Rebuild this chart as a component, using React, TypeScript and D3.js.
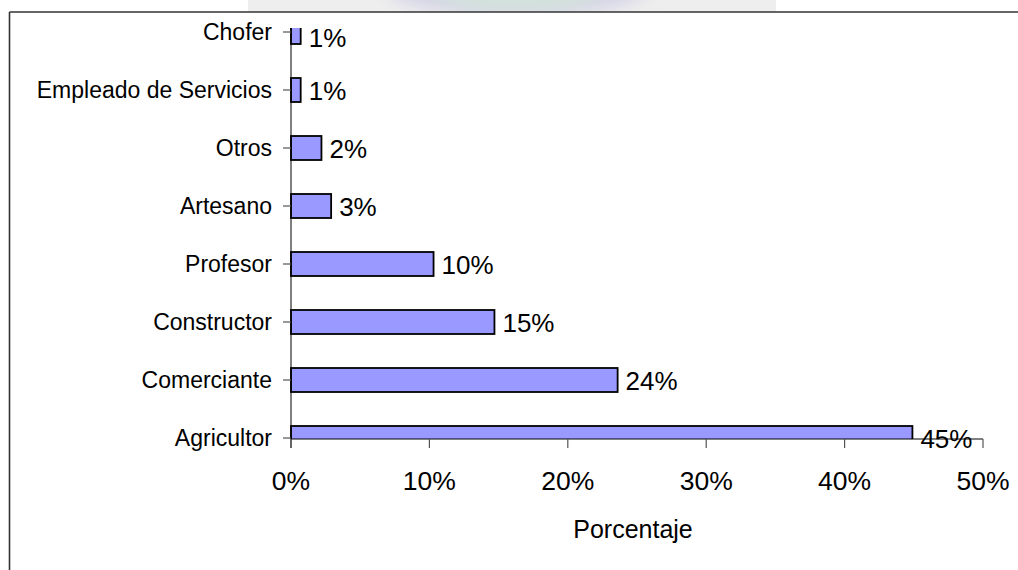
import React from "react";
import * as d3 from "d3";

const categories = [
  "Agricultor",
  "Comerciante",
  "Constructor",
  "Profesor",
  "Artesano",
  "Otros",
  "Empleado de Servicios",
  "Chofer",
];
const values = [44.9, 23.6, 14.7, 10.3, 2.9, 2.2, 0.7, 0.7];
const xTicks = [0, 10, 20, 30, 40, 50];
const axisTitle = "Porcentaje";

const W = 1018;
const H = 570;
const plotLeft = 291;
const plotRight = 983;
const plotTop = 28;
const plotBottom = 439;
const FONT = "'Liberation Sans', Arial, Helvetica, sans-serif";

export default function App() {
  const x = d3.scaleLinear().domain([0, 50]).range([plotLeft, plotRight]);
  const y = d3.scalePoint<string>().domain(categories).range([438, 32]).padding(0);
  const barH = 24;

  return (
    <div style={{ position: "absolute", left: 0, top: 0, width: W, height: H }}>
      <svg width={W} height={H} style={{ display: "block", background: "#fff" }}>
        <defs>
          <clipPath id="plotClip">
            <rect x={plotLeft - 2} y={plotTop} width={plotRight - plotLeft + 4} height={plotBottom - plotTop} />
          </clipPath>
          <clipPath id="bandClip">
            <rect x={248} y={0} width={528} height={12} />
          </clipPath>
          <filter id="blur" x="-50%" y="-50%" width="200%" height="200%">
            <feGaussianBlur stdDeviation="8" />
          </filter>
        </defs>

        {/* background watermark band */}
        <g clipPath="url(#bandClip)">
          <rect x={248} y={0} width={528} height={12} fill="#eeeeee" />
          <ellipse cx={517} cy={-12} rx={130} ry={28} fill="#d4d3e6" filter="url(#blur)" />
          <ellipse cx={517} cy={-10} rx={85} ry={20} fill="#d3e4da" filter="url(#blur)" />
        </g>

        {/* chart border */}
        <line x1={9.5} y1={12} x2={W} y2={12} stroke="#333" strokeWidth={1.6} />
        <line x1={9.5} y1={12} x2={9.5} y2={H} stroke="#333" strokeWidth={1.6} />

        {/* bars */}
        <g clipPath="url(#plotClip)">
          {categories.map((c, i) => (
            <rect
              key={c}
              x={x(0)}
              y={(y(c) as number) - barH / 2}
              width={x(values[i]) - x(0)}
              height={barH}
              fill="#9999FF"
              stroke="#000"
              strokeWidth={1.8}
            />
          ))}
        </g>

        {/* y axis */}
        <line x1={plotLeft} y1={plotTop} x2={plotLeft} y2={plotBottom + 9} stroke="#000" strokeWidth={1} />
        {categories.map((c) => (
          <g key={c}>
            <line x1={plotLeft - 8} x2={plotLeft} y1={y(c)} y2={y(c)} stroke="#555" strokeWidth={1.2} />
            <text
              x={272}
              y={(y(c) as number) + 8}
              textAnchor="end"
              fontFamily={FONT}
              fontSize={23}
              fill="#000"
            >
              {c}
            </text>
          </g>
        ))}

        {/* x axis */}
        <line x1={plotLeft} y1={plotBottom} x2={plotRight} y2={plotBottom} stroke="#000" strokeWidth={1} />
        {xTicks.map((t) => (
          <g key={t}>
            <line x1={x(t)} x2={x(t)} y1={plotBottom} y2={plotBottom + 9} stroke="#555" strokeWidth={1.2} />
            <text x={x(t)} y={490} textAnchor="middle" fontFamily={FONT} fontSize={26.5} fill="#000">
              {t}%
            </text>
          </g>
        ))}
        <text x={633} y={538} textAnchor="middle" fontFamily={FONT} fontSize={25} fill="#000">
          {axisTitle}
        </text>

        {/* value labels */}
        {categories.map((c, i) => {
          const cy = Math.max(y(c) as number, plotTop + 9);
          return (
            <text
              key={c}
              x={x(values[i]) + 8}
              y={cy + 9.5}
              textAnchor="start"
              fontFamily={FONT}
              fontSize={26}
              fill="#000"
            >
              {Math.round(values[i])}%
            </text>
          );
        })}
      </svg>
    </div>
  );
}
